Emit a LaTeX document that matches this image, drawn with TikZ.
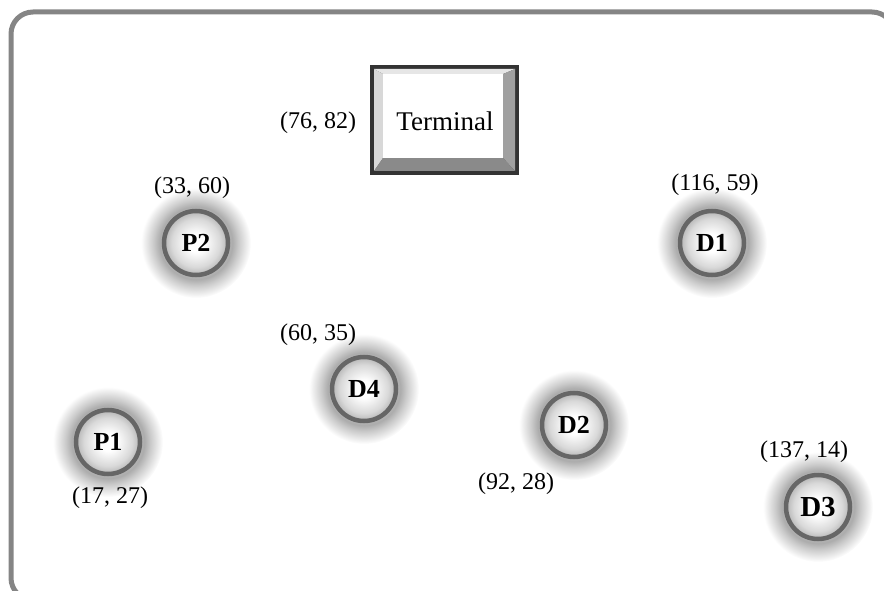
\documentclass[tikz,border=0pt]{standalone}
\usepackage{fontspec}
\setmainfont{Liberation Serif}
\usetikzlibrary{backgrounds}

\definecolor{framegray}{HTML}{858585}
\definecolor{ringgray}{HTML}{666666}
\definecolor{btnborder}{HTML}{333333}
\definecolor{bevellight}{HTML}{E6E6E6}
\definecolor{bevelleft}{HTML}{D8D8D8}
\definecolor{bevelright}{HTML}{A0A0A0}
\definecolor{bevelbottom}{HTML}{8A8A8A}

% soft halo: white core, grey near the ring, fading out to white
\pgfdeclareradialshading{haloshade}{\pgfpointorigin}{%
  color(0bp)=(white); color(4bp)=(white); color(11bp)=(gray!30);
  color(14.5bp)=(gray!58); color(16.5bp)=(gray!65); color(19.5bp)=(gray!40);
  color(25bp)=(white); color(50bp)=(white)}

\tikzset{
  station/.style={circle, draw=ringgray, line width=4.5pt, minimum size=64pt,
    inner sep=0pt, font=\fontsize{26}{28}\selectfont\bfseries},
  coordlabel/.style={font=\fontsize{24}{26}\selectfont, inner sep=0pt},
  halo/.style={shading=haloshade},
}

\begin{document}
\begin{tikzpicture}[x=1pt, y=-1pt]
  \useasboundingbox (0,0) rectangle (884,591);
  \clip (0,0) rectangle (884,591);

  % outer frame (runs past the right and bottom edges)
  \draw[framegray, line width=5pt, rounded corners=22pt] (11,12) rectangle (894,600);

  % Terminal button with bevelled edges
  \fill[btnborder] (370,65) rectangle (519,175);
  \fill[bevellight] (374,69) -- (515,69) -- (503,74) -- (383,74) -- cycle;
  \fill[bevelleft] (374,69) -- (383,74) -- (383,158) -- (374,171) -- cycle;
  \fill[bevelright] (515,69) -- (515,171) -- (503,158) -- (503,74) -- cycle;
  \fill[bevelbottom] (374,171) -- (383,158) -- (503,158) -- (515,171) -- cycle;
  \fill[white] (383,74) rectangle (503,158);
  \node[inner sep=0pt, font=\fontsize{27}{29}\selectfont] (term) at (445,121) {Terminal};

  % stations
  \node[station] (P2) at (196,243) {P2};
  \node[station] (D1) at (712,243) {D1};
  \node[station] (D4) at (364,389) {D4};
  \node[station] (P1) at (108,442) {P1};
  \node[station] (D2) at (574,425) {D2};
  \node[station, font=\fontsize{29}{31}\selectfont\bfseries] (D3) at (818,507) {D3};

  \begin{scope}[on background layer]
    \foreach \n in {P2,D1,D4,P1,D2,D3}
      \shade[halo] (\n.center) circle (55pt);
  \end{scope}

  % coordinate labels
  \node[coordlabel] (lT)  at (318,123) {(76, 82)};
  \node[coordlabel] (lP2) at (192,188) {(33, 60)};
  \node[coordlabel] (lD1) at (715,185) {(116, 59)};
  \node[coordlabel] (lD4) at (318,335) {(60, 35)};
  \node[coordlabel] (lP1) at (110,498) {(17, 27)};
  \node[coordlabel] (lD2) at (516,484) {(92, 28)};
  \node[coordlabel] (lD3) at (804,452) {(137, 14)};
\end{tikzpicture}
\end{document}
